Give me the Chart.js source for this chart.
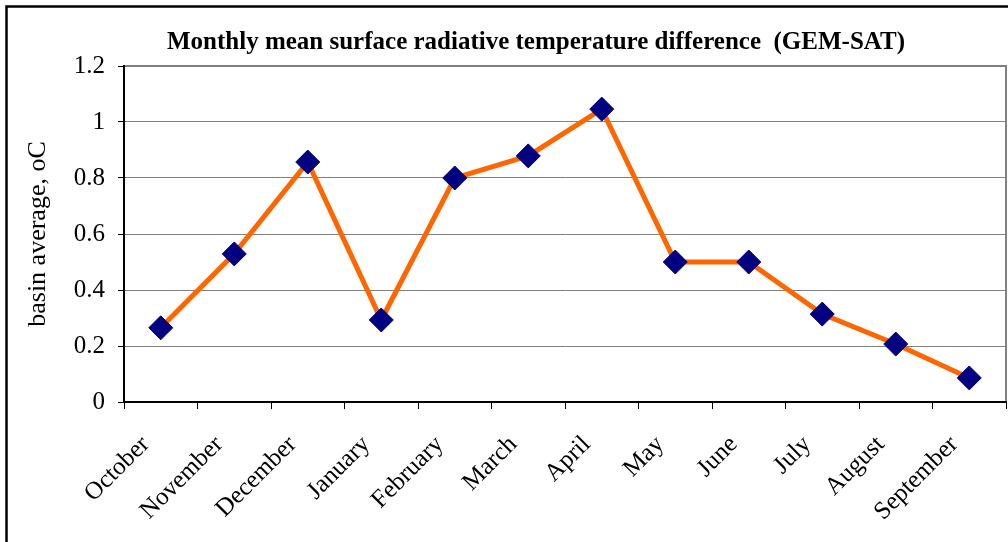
<!DOCTYPE html>
<html>
<head>
<meta charset="utf-8">
<script src="https://cdn.jsdelivr.net/npm/chart.js@4/dist/chart.umd.min.js"></script>
<style>
  html, body { margin: 0; padding: 0; background: #fff; overflow: hidden; }
</style>
</head>
<body>
<canvas id="chart" width="1019" height="542"></canvas>
<script>
const months = ["October", "November", "December", "January", "February", "March",
  "April", "May", "June", "July", "August", "September"];
const tempDiff = [0.265, 0.529, 0.857, 0.293, 0.8, 0.879, 1.046, 0.5, 0.5, 0.314, 0.207, 0.086];
const yTicks = [0, 0.2, 0.4, 0.6, 0.8, 1, 1.2];
const chartTitle = "Monthly mean surface radiative temperature difference  (GEM-SAT)";

const serif = "'Liberation Serif', 'Times New Roman', serif";

// frame round the whole chart, grey box round the plot area, title
const framePlugin = {
  id: "frame",
  beforeDraw(chart) {
    const ctx = chart.ctx;
    ctx.save();
    ctx.fillStyle = "#fff";
    ctx.fillRect(0, 0, chart.width, chart.height);
    ctx.strokeStyle = "#000";
    ctx.lineWidth = 2.5;
    ctx.beginPath();
    ctx.moveTo(6.5, chart.height + 5);
    ctx.lineTo(6.5, 6.5);
    ctx.lineTo(chart.width + 5, 6.5);
    ctx.stroke();
    const a = chart.chartArea;
    ctx.strokeStyle = "#808080";
    ctx.lineWidth = 2;
    ctx.beginPath();
    ctx.moveTo(a.left, a.top);
    ctx.lineTo(a.right, a.top);
    ctx.lineTo(a.right, a.bottom);
    ctx.stroke();
    // title sits off-centre in the original, so it is drawn here
    ctx.fillStyle = "#000";
    ctx.font = "bold 25px " + serif;
    ctx.textAlign = "center";
    ctx.textBaseline = "middle";
    ctx.fillText(chartTitle, 536, 43);
    ctx.restore();
  },
};

const ctx = document.getElementById("chart").getContext("2d");
new Chart(ctx, {
  type: "line",
  data: {
    labels: months,
    datasets: [
      {
        data: tempDiff,
        borderColor: "#FF6600",
        borderWidth: 5,
        tension: 0,
        pointStyle: "rectRot",
        pointRadius: 12,
        pointBackgroundColor: "#000080",
        pointBorderColor: "#000080",
        pointBorderWidth: 1,
      },
    ],
  },
  options: {
    responsive: false,
    animation: false,
    events: [],
    layout: { padding: { left: 0, right: 0, top: 66, bottom: 0 } },
    plugins: {
      legend: { display: false },
      tooltip: { enabled: false },
      title: { display: false },
    },
    scales: {
      x: {
        type: "category",
        offset: true,
        grid: {
          offset: true,
          drawOnChartArea: false,
          drawTicks: true,
          tickLength: 7,
          tickColor: "#000",
        },
        border: { color: "#000", width: 2 },
        ticks: {
          color: "#000",
          font: { family: serif, size: 25 },
          minRotation: 45,
          maxRotation: 45,
          padding: 21,
          labelOffset: -15,
          autoSkip: false,
        },
        afterFit(scale) {
          scale.height = 140;
        },
      },
      y: {
        min: 0,
        max: 1.2,
        afterBuildTicks(scale) {
          scale.ticks = yTicks.map((v) => ({ value: v }));
        },
        grid: {
          color: "#808080",
          lineWidth: 1,
          tickLength: 6,
          tickColor: "#000",
        },
        border: { color: "#000", width: 2 },
        ticks: {
          color: "#000",
          font: { family: serif, size: 25 },
          padding: 13,
          callback: (v) => String(v),
        },
        title: {
          display: true,
          text: "basin average, oC",
          color: "#000",
          font: { family: serif, size: 26 },
          padding: { top: 23, bottom: 0 },
        },
        afterFit(scale) {
          scale.width = 124;
        },
      },
    },
  },
  plugins: [framePlugin],
});
</script>
</body>
</html>
